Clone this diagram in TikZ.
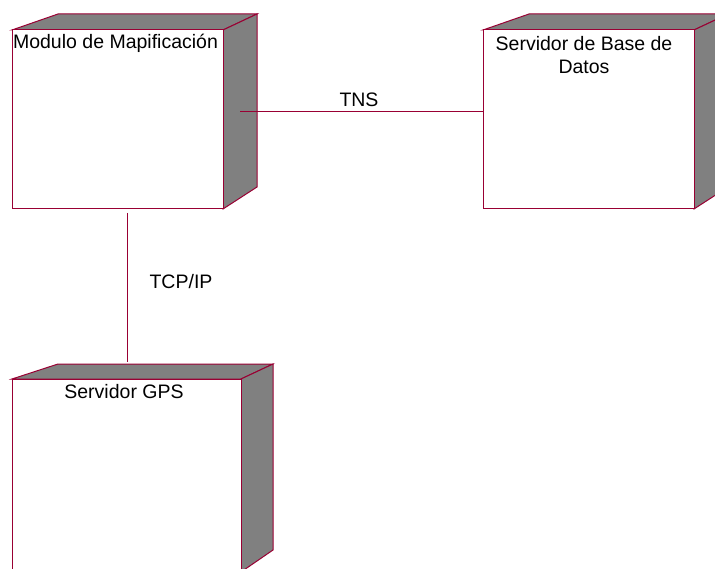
\documentclass[tikz,border=0pt]{standalone}
\usepackage{fontspec}
\setmainfont{Liberation Sans}
\definecolor{edge}{RGB}{153,0,51}
\definecolor{shade}{RGB}{128,128,128}
\tikzset{
  front/.style={draw=edge, fill=white, line width=1pt, inner sep=0pt, outer sep=0pt},
  faces/.style={draw=edge, fill=shade, line width=1pt, line join=miter},
  link/.style={draw=edge, line width=1pt},
  caption/.style={inner sep=0pt, font=\fontsize{19.5}{23}\selectfont, align=center, text=black},
}
\begin{document}
\begin{tikzpicture}[x=1pt,y=-1pt]
\useasboundingbox (0,0) rectangle (715,569);
\begin{scope}
\clip (0,0) rectangle (715,569);

% Modulo de Mapificacion
\draw[faces] (12,30) -- (58,14) -- (257,14) -- (223,30) -- cycle;
\draw[faces] (223,30) -- (257,14) -- (257,187) -- (223,209) -- cycle;
\node[front, minimum width=211pt, minimum height=179pt] (mod) at (117.5,119.5) {};
\node[caption] (modtxt) at (115.5,43) {Modulo de Mapificación};

% Servidor de Base de Datos
\draw[faces] (483,30) -- (529,14) -- (728,14) -- (694,30) -- cycle;
\draw[faces] (694,30) -- (728,14) -- (728,187) -- (694,209) -- cycle;
\node[front, minimum width=211pt, minimum height=179pt] (dbs) at (588.5,119.5) {};
\node[caption] (dbstxt) at (584,55) {Servidor de Base de\\Datos};

% Servidor GPS
\draw[faces] (12,379) -- (58,364) -- (273,364) -- (241,379) -- cycle;
\draw[faces] (241,379) -- (273,364) -- (273,550) -- (241,572) -- cycle;
\node[front, minimum width=229pt, minimum height=193pt] (gps) at (126.5,475.5) {};
\node[caption] (gpstxt) at (124,392) {Servidor GPS};
\end{scope}

% connectors
\coordinate (modside) at (240,112);
\coordinate (modbot) at (127,213);
\coordinate (gpstop) at (127,362);
\draw[link] (modside) -- (modside -| dbs.west);
\draw[link] (modbot) -- (gpstop);

\node[caption] (tns) at (359,100) {TNS};
\node[caption] (tcp) at (181,282) {TCP/IP};
\end{tikzpicture}
\end{document}
